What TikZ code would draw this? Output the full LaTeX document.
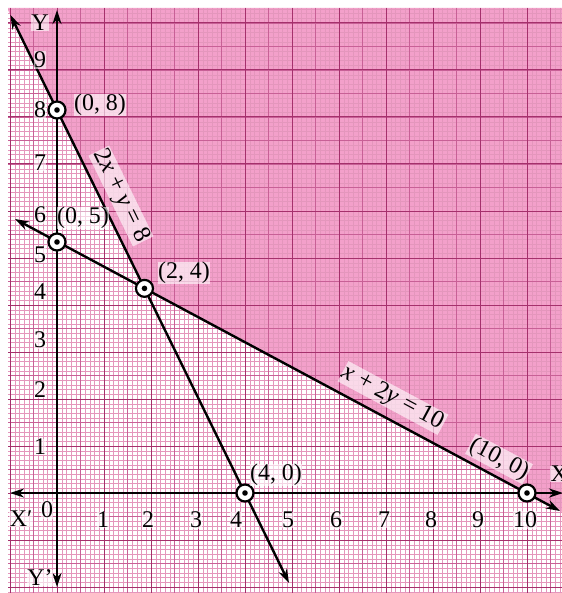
\documentclass[tikz,border=0pt]{standalone}
\usepackage{fontspec}
\setmainfont{Liberation Serif}
\usetikzlibrary{arrows.meta}
\definecolor{shadepink}{RGB}{243,160,202}
\definecolor{gminor}{RGB}{228,150,188}
\definecolor{gmid}{RGB}{200,96,150}
\definecolor{gmajor}{RGB}{165,48,108}
\begin{document}
\begin{tikzpicture}[x=1bp,y=-1bp,
  lab/.style={font=\fontsize{24}{26}\selectfont, inner sep=0.5bp, fill=white, fill opacity=0.6, text opacity=1},
  eqlab/.style={lab, font=\fontsize{25}{27}\selectfont},
  pt/.style={circle, draw=black, fill=white, line width=2.2bp, minimum size=17bp, inner sep=0pt,
    path picture={\fill[black] (path picture bounding box.center) circle (2.8bp);}},
  axisline/.style={line width=2.4bp, {Stealth[length=14bp,width=9bp]}-{Stealth[length=14bp,width=9bp]}},
  gline/.style={line width=2.4bp, {Stealth[length=14bp,width=9bp]}-{Stealth[length=14bp,width=9bp]}},
]
\useasboundingbox (0,0) rectangle (562,593);
\fill[white] (0,0) rectangle (562,593);
% line end points
\coordinate (a1) at (10.4,15);
\coordinate (a2) at (289,583);
\coordinate (b1) at (15,219);
\coordinate (b2) at (560,511);
\coordinate (xl) at (10,493);
\coordinate (xr) at (563,493);
\coordinate (yt) at (57,10);
\coordinate (yb) at (57,587);
\coordinate (c24) at (intersection of a1--a2 and b1--b2);
% shaded region
\begin{scope}
\clip (8,8) rectangle (562,593);
\fill[shadepink] (7,8) -- (c24) -- (562,512) -- (562,8) -- cycle;
% graph paper
\foreach \i in {-10,...,107} \draw[gminor, line width=0.35bp] ({57+\i*4.7},8) -- ({57+\i*4.7},593);
\foreach \j in {-21,...,103} \draw[gminor, line width=0.35bp] (8,{493-\j*4.7}) -- (562,{493-\j*4.7});
\foreach \i in {-2,...,21} \draw[gmid, line width=0.6bp] ({57+\i*23.5},8) -- ({57+\i*23.5},593);
\foreach \j in {-4,...,20} \draw[gmid, line width=0.6bp] (8,{493-\j*23.5}) -- (562,{493-\j*23.5});
\foreach \i in {-1,...,10} \draw[gmajor, line width=1bp] ({57+\i*47},8) -- ({57+\i*47},593);
\foreach \j in {-2,...,10} \draw[gmajor, line width=1bp] (8,{493-\j*47}) -- (562,{493-\j*47});
\end{scope}
% lines and axes
\draw[gline] (a1) -- (a2);
\draw[gline] (b1) -- (b2);
\draw[axisline] (xl) -- (xr);
\draw[axisline] (yb) -- (yt);
% points
\node[pt] (p08) at (57,110) {};
\node[pt] (p05) at (57,242) {};
\node[pt] (p24) at (c24) {};
\node[pt] (p40) at (245,493) {};
\node[pt] (p100) at (527,493) {};
% axis labels
\node[lab] (ly) at (40,23) {Y};
\node[lab] (lyp) at (40,578) {Y'};
\node[lab] (lxp) at (21,519) {X′};
\node[lab, anchor=west] (lx) at (550,474) {X};
\node[lab] (lo) at (47,510) {0};
\foreach \v/\yy in {1/447,2/390,3/340,4/292,5/255,6/215,7/163,8/110,9/60}
  \node[lab] (ty\v) at (40,\yy) {\v};
\foreach \v/\xx in {1/103,2/148,3/196,4/236,5/288,6/336,7/384,8/431,9/478,10/525}
  \node[lab] (tx\v) at (\xx,520) {\v};
% point labels
\node[lab] (l08) at (100,105) {(0, 8)};
\node[lab] (l05) at (83,218) {(0, 5)};
\node[lab] (l24) at (184,273) {(2, 4)};
\node[lab] (l40) at (276,475) {(4, 0)};
\node[lab, rotate=-28] (l100) at (499,459) {(10, 0)};
% equation labels
\node[eqlab, rotate=-63.9] (eq1) at (121,196) {2\textit{x} + \textit{y} = 8};
\node[eqlab, rotate=-28.2] (eq2) at (393,398) {\textit{x} + 2\textit{y} = 10};
\end{tikzpicture}
\end{document}
